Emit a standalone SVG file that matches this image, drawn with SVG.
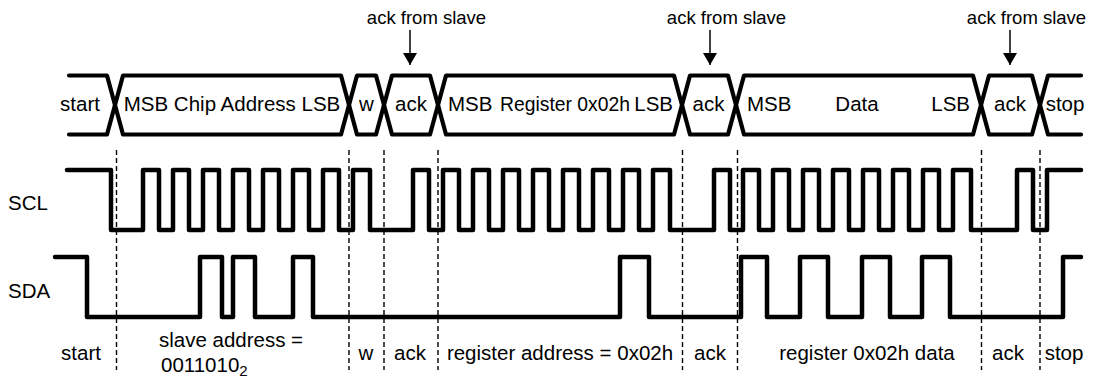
<svg xmlns="http://www.w3.org/2000/svg" width="1099" height="380" viewBox="0 0 1099 380">
<defs>
<style>
.t{font-family:"Liberation Sans",Arial,sans-serif;font-size:20.5px;fill:#000}
.ta{font-family:"Liberation Sans",Arial,sans-serif;font-size:18.5px;fill:#000}
.m{text-anchor:middle}
.e{text-anchor:end}
.wave{fill:none;stroke:#000;stroke-width:4.5;stroke-linejoin:round;stroke-linecap:round}
.bus{fill:none;stroke:#000;stroke-width:4.2;stroke-linejoin:round;stroke-linecap:round}
.dash{fill:none;stroke:#000;stroke-width:1.4;stroke-dasharray:5,3}
.arr{fill:none;stroke:#000;stroke-width:1.5}
</style>
<marker id="ah" viewBox="0 0 12 14" refX="12" refY="7" markerWidth="12" markerHeight="14" markerUnits="userSpaceOnUse" orient="auto">
<path d="M0,0 L12,7 L0,14 Z" fill="#000"/>
</marker>
</defs>
<rect width="1099" height="380" fill="#fff"/>

<g id="guides">
<path class="dash" d="M116.5,150V370M349,150V370M384,150V370M438,150V370M682.5,150V370M737.5,150V370M981.5,150V370M1040,150V370"/>
</g>

<g id="bus">
<path class="bus" d="M69,75.5H107L123,134.5H341L357,75.5H376L392,134.5H430L446,75.5H674L690,134.5H728L744,75.5H973L989,134.5H1032L1048,75.5H1081"/>
<path class="bus" d="M69,134.5H107L123,75.5H341L357,134.5H376L392,75.5H430L446,134.5H674L690,75.5H728L744,134.5H973L989,75.5H1032L1048,134.5H1081"/>
</g>

<g id="seg-start"><text class="t m" x="80" y="111">start</text></g>
<g id="seg-chip"><text class="t m" x="232" y="111">MSB Chip Address LSB</text></g>
<g id="seg-w"><text class="t m" x="366.5" y="111">w</text></g>
<g id="seg-ack1"><text class="t m" x="411" y="111">ack</text></g>
<g id="seg-reg"><text class="t" x="448" y="111">MSB</text><text class="t m" x="565" y="111" textLength="130" lengthAdjust="spacingAndGlyphs">Register 0x02h</text><text class="t e" x="673" y="111">LSB</text></g>
<g id="seg-ack2"><text class="t m" x="708.5" y="111">ack</text></g>
<g id="seg-data"><text class="t" x="747" y="111">MSB</text><text class="t m" x="857" y="111">Data</text><text class="t e" x="970" y="111">LSB</text></g>
<g id="seg-ack3"><text class="t m" x="1010" y="111">ack</text></g>
<g id="seg-stop"><text class="t m" x="1065" y="111">stop</text></g>

<g id="ann1"><text class="ta m" x="426.5" y="24">ack from slave</text></g>
<g id="ann2"><text class="ta m" x="726.5" y="24">ack from slave</text></g>
<g id="ann3"><text class="ta m" x="1026.5" y="24">ack from slave</text></g>

<g id="connectors">
<path class="arr" d="M410,30V65" marker-end="url(#ah)"/>
<path class="arr" d="M710,30V65" marker-end="url(#ah)"/>
<path class="arr" d="M1010,30V65" marker-end="url(#ah)"/>
</g>

<g id="scl">
<text class="t" x="8" y="210">SCL</text>
<path class="wave" d="M67,170H111V230H143V170H159V230H173V170H189V230H203V170H219V230H233V170H249V230H263V170H279V230H293V170H309V230H323V170H339V230H353V170H370V230H413V170H429V230H443V170H459V230H473V170H489V230H503V170H519V230H533V170H549V230H563V170H579V230H593V170H609V230H623V170H639V230H653V170H670V230H714V170H730V230H743V170H759V230H773V170H789V230H803V170H819V230H833V170H849V230H863V170H879V230H893V170H909V230H923V170H939V230H953V170H971V230H1017V170H1033V230H1047V170H1081"/>
</g>

<g id="sda">
<text class="t" x="8" y="298">SDA</text>
<path class="wave" d="M55,257H87V317H200V257H222V317H233V257H255V317H293V257H313V317H620V257H649V317H741V257H767V317H800V257H828V317H862V257H890V317H922V257H950V317H1063V257H1081"/>
</g>

<g id="bottom-labels">
<text class="t m" x="81" y="360">start</text>
<text class="t m" x="231" y="347">slave address =</text>
<text class="t" x="161" y="372">0011010<tspan font-size="15" dy="4">2</tspan></text>
<text class="t m" x="366" y="360">w</text>
<text class="t m" x="410" y="360">ack</text>
<text class="t m" x="560" y="360">register address = 0x02h</text>
<text class="t m" x="710" y="360">ack</text>
<text class="t m" x="867" y="360">register 0x02h data</text>
<text class="t m" x="1008" y="360">ack</text>
<text class="t m" x="1064" y="360">stop</text>
</g>
</svg>
